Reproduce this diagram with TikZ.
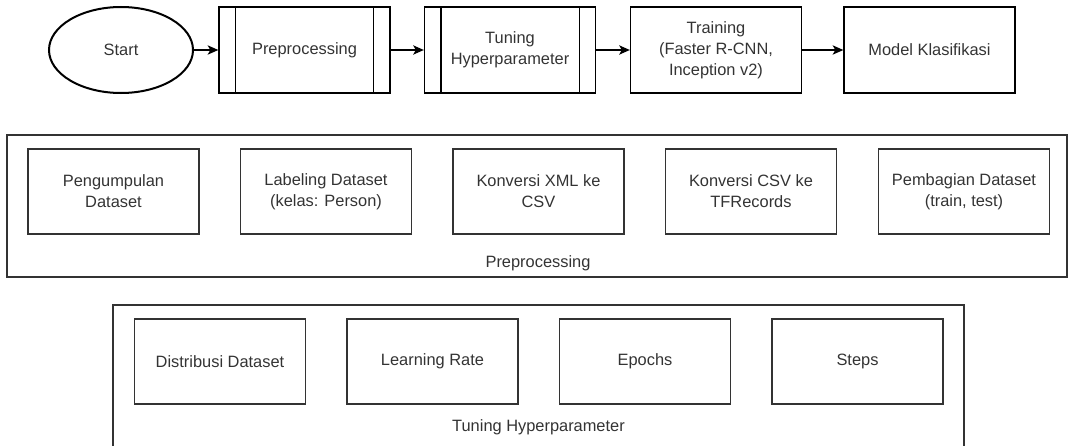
\documentclass[tikz,border=0pt]{standalone}
\usepackage{fontspec}
\setmainfont{Liberation Sans}
\usetikzlibrary{arrows.meta,shapes.geometric}
\definecolor{ink}{HTML}{333333}
\begin{document}
\begin{tikzpicture}[x=0.75pt,y=-0.75pt,
  every node/.style={font=\fontsize{12.3}{15.6}\selectfont, text=ink, align=center, inner sep=0pt},
  terminal/.style={ellipse, draw=black, line width=1.5pt, minimum width={144*0.75pt}, minimum height={86*0.75pt}},
  procbox/.style={draw=black, line width=1pt, minimum width={171*0.75pt}, minimum height={86*0.75pt}},
  subbox/.style={draw=ink, line width=1pt, minimum width={171*0.75pt}, minimum height={85*0.75pt}},
  group/.style={draw=ink, line width=1pt},
  flow/.style={line width=1pt, -{Stealth[length=8pt,width=7pt,inset=2pt]}}
]
\useasboundingbox (0,0) rectangle (1068,446);
\clip (0,0) rectangle (1068,446);

% main flow
\node[terminal] (start) at (121,50) {Start};
\node[procbox] (prep)  at (304.5,50) {Preprocessing};
\node[procbox] (tune)  at (510,50) {Tuning\\Hyperparameter};
\node[procbox] (train) at (716,50) {Training\\(Faster R-CNN,\\Inception v2)};
\node[procbox] (model) at (929.5,50) {Model Klasifikasi};

% side bars of the predefined-process boxes
\foreach \n in {prep,tune}{
  \draw[line width=1pt] ([xshift=12.75pt]\n.north west) -- ([xshift=12.75pt]\n.south west);
  \draw[line width=1pt] ([xshift=-12.75pt]\n.north east) -- ([xshift=-12.75pt]\n.south east);
}

\draw[flow] (start.east) -- (prep.west);
\draw[flow] (prep.east) -- (tune.west);
\draw[flow] (tune.east) -- (train.west);
\draw[flow] (train.east) -- (model.west);

% preprocessing group
\node[group, minimum width={1060*0.75pt}, minimum height={142*0.75pt}] (pregroup) at (537,206) {};
\node[subbox] (p1) at (113.5,191.5) {Pengumpulan\\Dataset};
\node[subbox] (p2) at (326,191.5) {Labeling Dataset\\(kelas: Person)};
\node[subbox] (p3) at (538.5,191.5) {Konversi XML ke\\CSV};
\node[subbox] (p4) at (751,191.5) {Konversi CSV ke\\TFRecords};
\node[subbox] (p5) at (964,191.5) {Pembagian Dataset\\(train, test)};
\node (prelabel) at (538,263) {Preprocessing};

% tuning group (runs past the lower edge)
\node[group, minimum width={851*0.75pt}, minimum height={160*0.75pt}] (tunegroup) at (538.5,385) {};
\node[subbox] (t1) at (220,361.5) {Distribusi Dataset};
\node[subbox] (t2) at (432.5,361.5) {Learning Rate};
\node[subbox] (t3) at (645,361.5) {Epochs};
\node[subbox] (t4) at (857.5,361.5) {Steps};
\node (tunelabel) at (538.5,427) {Tuning Hyperparameter};
\end{tikzpicture}
\end{document}
